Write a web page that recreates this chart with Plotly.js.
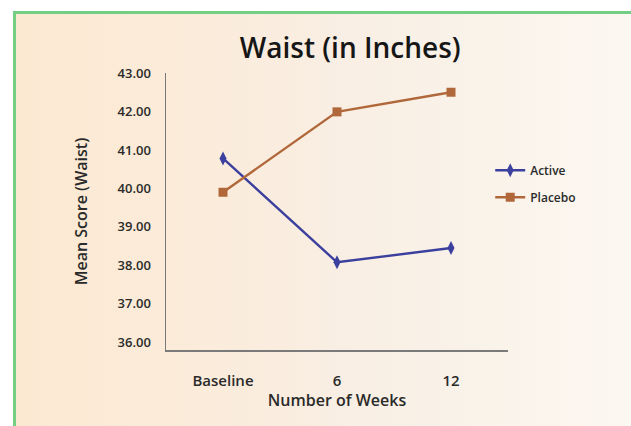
<!DOCTYPE html>
<html>
<head>
<meta charset="utf-8">
<script src="https://cdn.plot.ly/plotly-3.0.1.min.js"></script>
<style>
  html, body { margin: 0; padding: 0; width: 631px; height: 426px; overflow: hidden; background: #ffffff; }
  #frame {
    position: absolute; left: 13px; top: 11px; width: 640px; height: 440px;
    border-top: 3px solid #72cf83; border-left: 3px solid #72cf83;
    background: linear-gradient(to right, #fce9d2 0%, #fbebd9 25%, #f9eee3 50%, #f9f3ea 75%, #fdf8f3 100%);
  }
  #chart { position: absolute; left: 0; top: 0; width: 631px; height: 426px; }
</style>
</head>
<body>
<div id="frame"></div>
<div id="chart"></div>
<script>
const categories = ["Baseline", "6", "12"];
const activeValues = [40.78, 38.08, 38.45];
const placeboValues = [39.9, 41.99, 42.5];
const yTickValues = [36, 37, 38, 39, 40, 41, 42, 43];
const yTickLabels = ["36.00", "37.00", "38.00", "39.00", "40.00", "41.00", "42.00", "43.00"];

const fontFam = "Open Sans, Liberation Sans, sans-serif";

const traces = [
  {
    x: categories, y: activeValues, name: "Active", type: "scatter", mode: "lines+markers",
    legendgroup: "a",
    line: { color: "#3b3f9e", width: 2.4 },
    marker: { symbol: "diamond-tall", size: 10, color: "#3b3f9e" }
  },
  {
    x: categories, y: placeboValues, name: "Placebo", type: "scatter", mode: "lines+markers",
    legendgroup: "p",
    line: { color: "#b0683b", width: 2.4 },
    marker: { symbol: "square", size: 9, color: "#b0683b" }
  }
];

const layout = {
  width: 631, height: 426,
  paper_bgcolor: "rgba(0,0,0,0)", plot_bgcolor: "rgba(0,0,0,0)",
  margin: { l: 166, r: 123, t: 73, b: 76 },
  font: { family: fontFam, color: "#2a2a2a" },
  title: {
    text: "Waist (in Inches)",
    font: { family: fontFam, size: 28, weight: 600, color: "#161616" },
    x: 0.555, xanchor: "center", y: 0.888, yanchor: "middle"
  },
  xaxis: {
    type: "category", range: [-0.5, 2.5],
    showline: true, linecolor: "#7a7a7a", linewidth: 1.5,
    showgrid: false, zeroline: false, ticks: "",
    tickfont: { family: fontFam, size: 15, weight: 600, color: "#2a2a2a" },
    ticklabelstandoff: 16,
    title: { text: "Number of Weeks", font: { family: fontFam, size: 16, weight: 600, color: "#2a2a2a" }, standoff: 0 }
  },
  yaxis: {
    range: [35.8, 43.0],
    tickvals: yTickValues, ticktext: yTickLabels,
    showline: true, linecolor: "#7a7a7a", linewidth: 1.5,
    showgrid: false, zeroline: false, ticks: "",
    tickfont: { family: fontFam, size: 13, weight: 600, color: "#2a2a2a" },
    ticklabelstandoff: 11,
    title: { text: "Mean Score (Waist)", font: { family: fontFam, size: 16, weight: 600, color: "#2a2a2a" }, standoff: 26 }
  },
  showlegend: true,
  legend: {
    x: 0.948, xanchor: "left", y: 0.60, yanchor: "middle",
    bgcolor: "rgba(0,0,0,0)",
    traceorder: "grouped", tracegroupgap: 8,
    font: { family: fontFam, size: 12, weight: 600, color: "#2a2a2a" }
  }
};

Plotly.newPlot("chart", traces, layout, { displayModeBar: false, staticPlot: true });
</script>
</body>
</html>
